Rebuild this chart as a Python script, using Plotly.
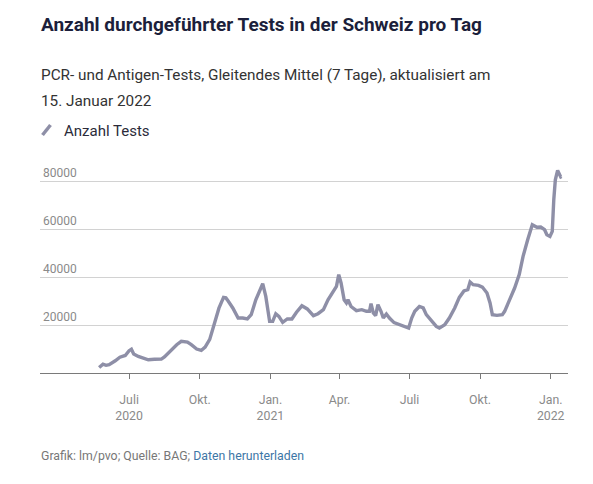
import plotly.graph_objects as go

dates = [
    "2020-05-23", "2020-05-28", "2020-06-01", "2020-06-05", "2020-06-13", "2020-06-19",
    "2020-06-26", "2020-07-01", "2020-07-04", "2020-07-07", "2020-07-13", "2020-07-20",
    "2020-07-26", "2020-08-03", "2020-08-12", "2020-08-16", "2020-08-23", "2020-09-01",
    "2020-09-07", "2020-09-15", "2020-09-20", "2020-09-27", "2020-10-03", "2020-10-08",
    "2020-10-14", "2020-10-20", "2020-10-26", "2020-11-01", "2020-11-04", "2020-11-07",
    "2020-11-13", "2020-11-20", "2020-11-26", "2020-12-02", "2020-12-07", "2020-12-13",
    "2020-12-18", "2020-12-22", "2020-12-26", "2020-12-29", "2020-12-31", "2021-01-04",
    "2021-01-08", "2021-01-12", "2021-01-17", "2021-01-23", "2021-01-29", "2021-02-04",
    "2021-02-11", "2021-02-18", "2021-02-26", "2021-03-04", "2021-03-11", "2021-03-17",
    "2021-03-24", "2021-03-28", "2021-03-31", "2021-04-03", "2021-04-07", "2021-04-10",
    "2021-04-12", "2021-04-16", "2021-04-23", "2021-04-30", "2021-05-06", "2021-05-10",
    "2021-05-12", "2021-05-15", "2021-05-18", "2021-05-21", "2021-05-25", "2021-05-28",
    "2021-06-01", "2021-06-05", "2021-06-11", "2021-06-18", "2021-06-25", "2021-06-30",
    "2021-07-04", "2021-07-08", "2021-07-14", "2021-07-19", "2021-07-23", "2021-07-30",
    "2021-08-05", "2021-08-09", "2021-08-16", "2021-08-22", "2021-08-29", "2021-09-04",
    "2021-09-10", "2021-09-15", "2021-09-18", "2021-09-22", "2021-09-29", "2021-10-04",
    "2021-10-10", "2021-10-14", "2021-10-17", "2021-10-23", "2021-10-30", "2021-11-02",
    "2021-11-09", "2021-11-15", "2021-11-21", "2021-11-26", "2021-12-02", "2021-12-08",
    "2021-12-14", "2021-12-19", "2021-12-24", "2021-12-27", "2021-12-31", "2022-01-03",
    "2022-01-05", "2022-01-07", "2022-01-10", "2022-01-12", "2022-01-14", "2022-01-15",
]

tests = [
    2300, 3700, 3200, 3500, 5100, 6600,
    7300, 9300, 9900, 7900, 6900, 6100,
    5500, 5700, 5800, 6700, 9000, 11800,
    13200, 12900, 11800, 10000, 9400, 10800,
    14000, 20000, 27000, 31500, 31300, 30000,
    27100, 22900, 22900, 22500, 24300, 30500,
    34700, 37200, 31900, 25000, 21500, 21500,
    24700, 23600, 21100, 22500, 22500, 25300,
    28000, 26700, 23900, 24700, 26400, 30500,
    34000, 36100, 41000, 37500, 30500, 29200,
    30500, 27700, 26000, 26400, 25700, 25700,
    28900, 25000, 23900, 28500, 25700, 22900,
    24600, 22900, 21000, 20100, 19400, 18700,
    22900, 25700, 27700, 27100, 24300, 21500,
    19400, 18700, 20100, 22900, 27100, 31500,
    34200, 34700, 37900, 36800, 36500, 35800,
    33300, 29200, 24300, 24000, 24300, 25700,
    30500, 35400, 41000, 48600, 55500, 61800,
    60700, 60800, 59700, 57600, 56900, 59000,
    72200, 80500, 84400, 82600, 81700, 81900,
]

x_tick_vals = ["2020-07-01", "2020-10-01", "2021-01-01", "2021-04-01",
               "2021-07-01", "2021-10-01", "2022-01-01"]
x_tick_text = ["Juli<br>2020", "Okt.", "Jan.<br>2021", "Apr.", "Juli", "Okt.", "Jan.<br>2022"]
y_tick_vals = [20000, 40000, 60000, 80000]
y_tick_text = ["20000", "40000", "60000", "80000"]

title = "Anzahl durchgeführter Tests in der Schweiz pro Tag"
subtitle_1 = "PCR- und Antigen-Tests, Gleitendes Mittel (7 Tage), aktualisiert am"
subtitle_2 = "15. Januar 2022"
legend_label = "Anzahl Tests"
footer = ("Grafik: lm/pvo; Quelle: BAG; "
          "<span style='color:#3d76a6'>Daten herunterladen</span>")

LINE = "#8e8fa7"
FONT = "Roboto"

# The page body has an 8px margin, so the figure is offset by 8px.
OFF = 8

fig = go.Figure()
fig.add_trace(go.Scatter(
    x=dates, y=tests, mode="lines",
    line=dict(color=LINE, width=3.4),
    hoverinfo="x+y", showlegend=False,
))

fig.update_layout(
    width=593 - OFF, height=484 - OFF,
    margin=dict(l=40 - OFF, r=25, t=150 - OFF, b=111),
    paper_bgcolor="white", plot_bgcolor="white",
    font=dict(family=FONT, color="#333333"),
    showlegend=False,
    xaxis=dict(
        type="date",
        range=["2020-03-07", "2022-01-23 12:00"],
        tickvals=x_tick_vals, ticktext=x_tick_text,
        showgrid=False, zeroline=False,
        showline=True, linecolor="#7a7a7a", linewidth=1,
        ticks="outside", ticklen=5, tickcolor="#7a7a7a", tickwidth=1,
        ticklabelstandoff=10,
        tickfont=dict(family=FONT, size=12.3, color="#8a8a8a"),
        fixedrange=True,
    ),
    yaxis=dict(
        range=[0, 92917],
        tickvals=y_tick_vals, ticktext=y_tick_text,
        ticklabelposition="inside top",
        showgrid=True, gridcolor="#d2d2d2", gridwidth=1,
        zeroline=False, showline=False, ticks="",
        tickfont=dict(family=FONT, size=12, color="#8a8a8a"),
        fixedrange=True,
    ),
)

PLOT_H = (373 - 150)
PLOT_W = 528.0

def py(p):
    return (373 - p) / PLOT_H

def px(p):
    return (p - 40) / PLOT_W

anns = [
    dict(text="<b>" + title + "</b>", x=px(39), y=py(24.5),
         font=dict(family=FONT, size=19, color="#1c1f3b")),
    dict(text=subtitle_1, x=px(39), y=py(75),
         font=dict(family=FONT, size=15.3, color="#333333")),
    dict(text=subtitle_2, x=px(39), y=py(100.8),
         font=dict(family=FONT, size=15.3, color="#333333")),
    dict(text=legend_label, x=px(62), y=py(130.7),
         font=dict(family=FONT, size=15, color="#2b2b3a")),
    dict(text=footer, x=px(39), y=py(455.7),
         font=dict(family=FONT, size=12.3, color="#777777")),
]
for a in anns:
    a.update(xref="paper", yref="paper", xanchor="left", yanchor="middle",
             showarrow=False)
    fig.add_annotation(**a)

fig.add_shape(type="line", xref="paper", yref="paper",
              x0=px(42.5), y0=py(135), x1=px(50.5), y1=py(125),
              line=dict(color=LINE, width=3.5))

fig.write_html("out.html")
